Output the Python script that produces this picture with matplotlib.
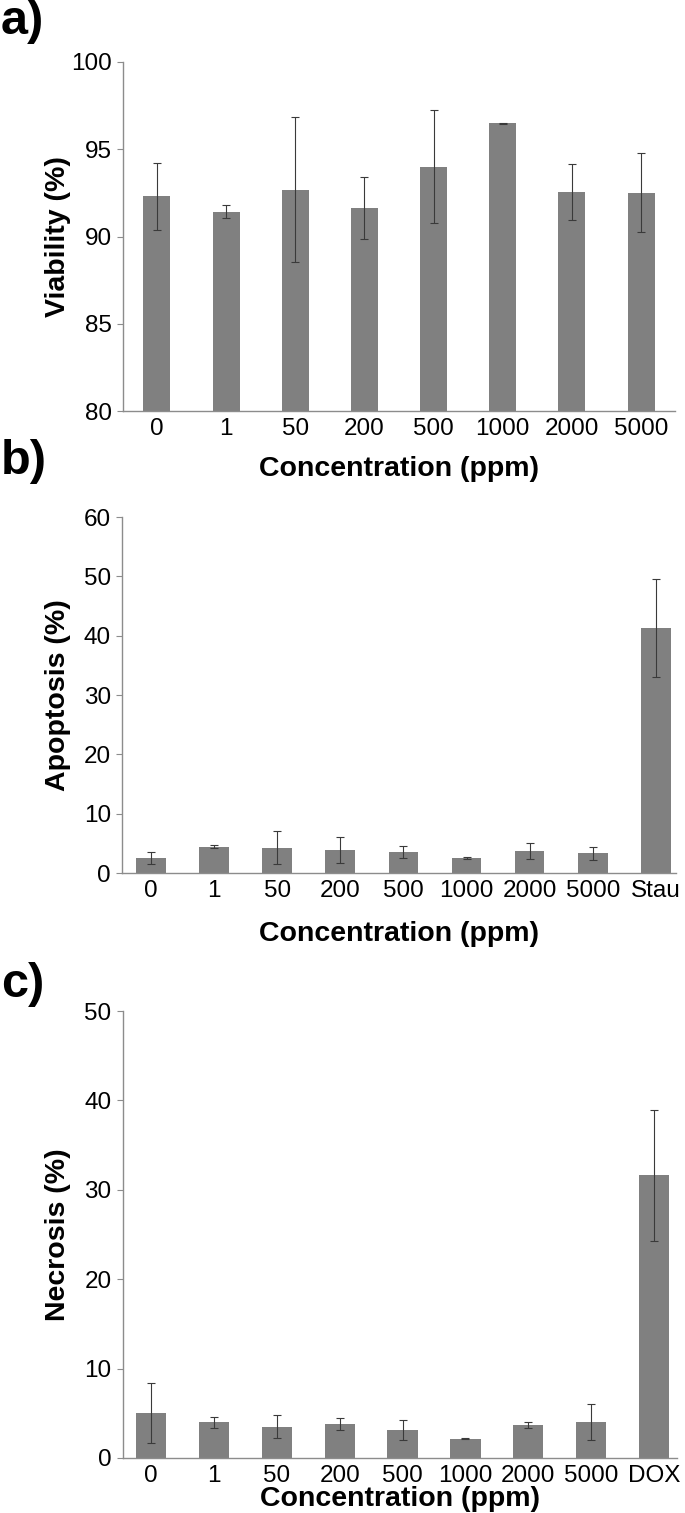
import matplotlib.pyplot as plt
import numpy as np

plt.rcParams['font.family'] = ['Liberation Sans', 'DejaVu Sans']

# panel a - viability
conc_a = ["0", "1", "50", "200", "500", "1000", "2000", "5000"]
viability = [92.3, 91.43, 92.69, 91.64, 94.0, 96.5, 92.55, 92.5]
viability_err = [1.9, 0.38, 4.15, 1.77, 3.23, 0.03, 1.63, 2.27]

# panel b - apoptosis
conc_b = ["0", "1", "50", "200", "500", "1000", "2000", "5000", "Stau"]
apoptosis = [2.52, 4.42, 4.25, 3.86, 3.53, 2.52, 3.69, 3.3, 41.3]
apoptosis_err = [0.98, 0.25, 2.77, 2.24, 1.03, 0.1, 1.31, 1.1, 8.2]

# panel c - necrosis
conc_c = ["0", "1", "50", "200", "500", "1000", "2000", "5000", "DOX"]
necrosis = [5.06, 3.99, 3.52, 3.75, 3.12, 2.17, 3.64, 3.99, 31.6]
necrosis_err = [3.34, 0.65, 1.33, 0.67, 1.1, 0.03, 0.34, 2.0, 7.3]

W, H = 685, 1513
fig = plt.figure(figsize=(W / 100, H / 100), dpi=100)

bar_color = "#808080"
err_color = "#3a3a3a"
spine_color = "#8c8c8c"


def make_panel(top, bottom, left, right, labels, values, errors, ylabel, ylim, yticks, xlim,
			   width, xlab_top):
	ax = fig.add_axes([left / W, 1 - bottom / H, (right - left) / W, (bottom - top) / H])
	x = np.arange(len(labels))
	ax.bar(x, values, width=width, color=bar_color, zorder=2)
	ax.errorbar(x, values, yerr=errors, fmt="none", ecolor=err_color,
				elinewidth=0.8, capsize=2.8, capthick=0.8, zorder=3)
	ax.set_xlim(*xlim)
	ax.set_ylim(*ylim)
	ax.set_yticks(yticks)
	ax.set_xticks(x)
	ax.set_xticklabels(labels)
	for side in ["top", "right"]:
		ax.spines[side].set_visible(False)
	for side in ["left", "bottom"]:
		ax.spines[side].set_color(spine_color)
		ax.spines[side].set_linewidth(1.0)
	ax.tick_params(axis="y", direction="out", length=4, width=0.8, color=spine_color,
				   labelsize=17.5, pad=4)
	ax.tick_params(axis="x", length=0, labelsize=17.5, pad=5)
	ax.set_xlabel("Concentration (ppm)", fontsize=20.5, fontweight="bold")
	ax.set_ylabel(ylabel, fontsize=20.5, fontweight="bold")
	# label positions in pixels, converted to axes fractions
	ax.xaxis.set_label_coords(0.5, -(xlab_top - bottom) / (bottom - top))
	ax.yaxis.set_label_coords(-(left - 71) / (right - left), 0.5)
	return ax


make_panel(62, 411, 123, 675, conc_a, viability, viability_err, "Viability (%)",
		   (80, 100), [80, 85, 90, 95, 100], (-0.49, 7.49), 0.39, 456)
make_panel(517, 873, 122, 676, conc_b, apoptosis, apoptosis_err, "Apoptosis (%)",
		   (0, 60), [0, 10, 20, 30, 40, 50, 60], (-0.46, 8.32), 0.47, 921)
make_panel(1011, 1458, 122.7, 676.7, conc_c, necrosis, necrosis_err, "Necrosis (%)",
		   (0, 50), [0, 10, 20, 30, 40, 50], (-0.45, 8.36), 0.48, 1486)

for label, base in [("a)", 34), ("b)", 474), ("c)", 997)]:
	fig.text(1 / W, 1 - base / H, label, fontsize=35, fontweight="bold", va="baseline", ha="left")

fig.savefig("out.png", dpi=100)
